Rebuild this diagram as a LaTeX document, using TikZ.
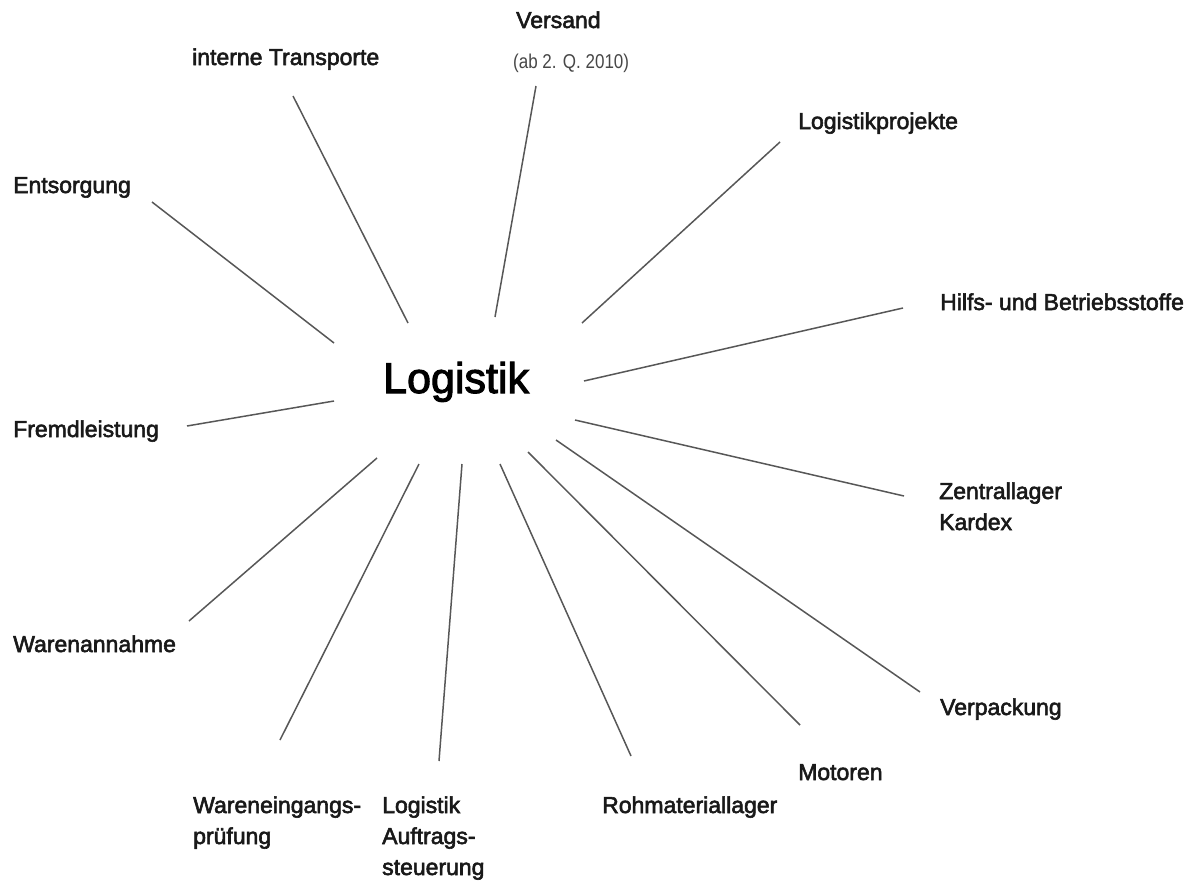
\documentclass[tikz,border=0pt]{standalone}
\usepackage{fontspec}
\setmainfont{Liberation Sans}
\newfontfamily\labelfont{Liberation Sans}[FakeBold=2.5]
\newfontfamily\notefont{Liberation Sans}[FakeStretch=0.85]

\begin{document}
\begin{tikzpicture}[x=1pt, y=-1pt]

    % Define styles
    \tikzset{
        hub/.style = {inner sep=0pt, anchor=base west, text=black, font=\labelfont\fontsize{43}{50}\selectfont},
        topic/.style = {inner sep=0pt, anchor=base west, align=left, text=black!90, font=\labelfont\fontsize{23}{31}\selectfont},
        note/.style = {inner sep=0pt, anchor=base west, text=black!72, font=\notefont\fontsize{20}{24}\selectfont},
        spoke/.style = {line width=1.5pt, draw=black!66}
    }

    \useasboundingbox (0,0) rectangle (1189,889);

    % Nodes (multi-line ones sit on the baseline of their last line)
    \node (logistik) [hub] at (383,393) {Logistik};
    \node (versand) [topic] at (516,28) {Versand};
    \node (versandnote) [note] at (513,68) {(ab 2. Q. 2010)};
    \node (intern) [topic] at (192,65) {interne Transporte};
    \node (entsorgung) [topic] at (13,193) {Entsorgung};
    \node (projekte) [topic] at (798,129) {Logistikprojekte};
    \node (hilfs) [topic] at (940,310) {Hilfs- und Betriebsstoffe};
    \node (fremd) [topic] at (13,437) {Fremdleistung};
    \node (zentral) [topic] at (939,530) {Zentrallager\\Kardex};
    \node (annahme) [topic] at (13,652) {Warenannahme};
    \node (verpackung) [topic] at (940,715) {Verpackung};
    \node (motoren) [topic] at (798,780) {Motoren};
    \node (rohmat) [topic] at (602,813) {Rohmateriallager};
    \node (auftrag) [topic] at (382,875) {Logistik\\Auftrags-\\steuerung};
    \node (pruefung) [topic] at (193,844) {Wareneingangs-\\prüfung};

    % Spoke ends
    \coordinate (entsorgung-out) at (152,202);
    \coordinate (entsorgung-in) at (334,343);
    \coordinate (intern-out) at (293,96);
    \coordinate (intern-in) at (408,323);
    \coordinate (versand-out) at (536,86);
    \coordinate (versand-in) at (495,317);
    \coordinate (projekte-out) at (780,142);
    \coordinate (projekte-in) at (582,323);
    \coordinate (hilfs-out) at (903,308);
    \coordinate (hilfs-in) at (584,381);
    \coordinate (zentral-out) at (904,496);
    \coordinate (zentral-in) at (575,420);
    \coordinate (verpackung-out) at (920,692);
    \coordinate (verpackung-in) at (556,440);
    \coordinate (motoren-out) at (800,725);
    \coordinate (motoren-in) at (528,452);
    \coordinate (rohmat-out) at (631,756);
    \coordinate (rohmat-in) at (500,464);
    \coordinate (auftrag-out) at (439,761);
    \coordinate (auftrag-in) at (462,464);
    \coordinate (pruefung-out) at (280,740);
    \coordinate (pruefung-in) at (419,464);
    \coordinate (annahme-out) at (189,621);
    \coordinate (annahme-in) at (377,458);
    \coordinate (fremd-out) at (187,426);
    \coordinate (fremd-in) at (334,401);

    % Spokes
    \foreach \t in {entsorgung, intern, versand, projekte, hilfs, zentral,
                    verpackung, motoren, rohmat, auftrag, pruefung, annahme, fremd}
        \draw [spoke] (\t-out) -- (\t-in);

\end{tikzpicture}
\end{document}
